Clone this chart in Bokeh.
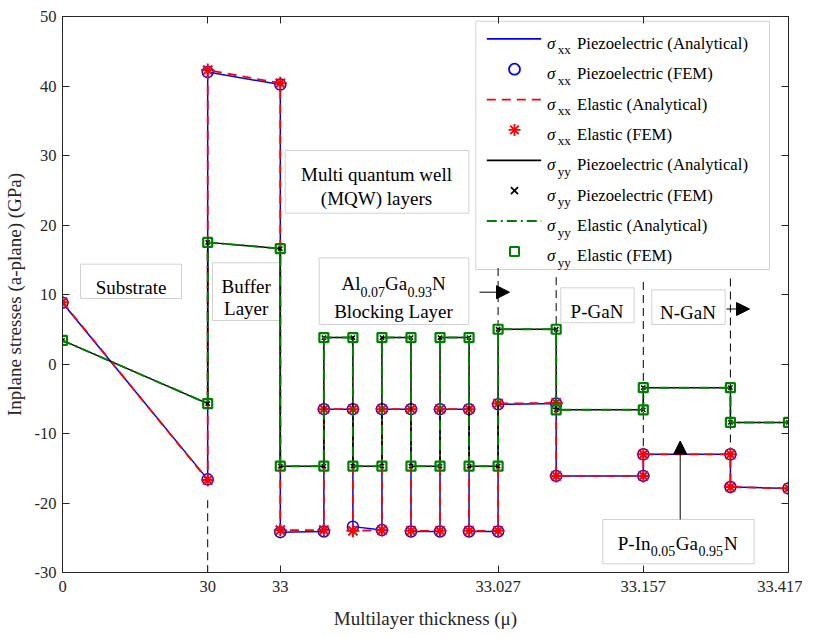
from bokeh.plotting import figure
from bokeh.models import (FixedTicker, LinearAxis, Label, BoxAnnotation, Arrow,
                          NormalHead, Range1d)
from bokeh.embed import file_html
from bokeh.resources import INLINE

# ---------------- data ----------------
layer_pos = [0, 2, 2, 3, 3, 3.6, 3.6, 4.0, 4.0, 4.4, 4.4, 4.8, 4.8, 5.2, 5.2,
             5.6, 5.6, 6.0, 6.0, 6.8, 6.8, 8.0, 8.0, 9.2, 9.2, 10]
sxx_piezo = [8.8, -16.6, 42.0, 40.2, -24.2, -24.1, -6.5, -6.5, -23.4, -23.9,
             -6.5, -6.5, -24.1, -24.1, -6.5, -6.5, -24.1, -24.1, -5.8, -5.7,
             -16.1, -16.1, -13.0, -13.0, -17.7, -17.9]
sxx_elastic = [8.9, -16.7, 42.3, 40.4, -23.9, -23.9, -6.5, -6.5, -24.0, -23.9,
               -6.5, -6.5, -24.0, -24.0, -6.5, -6.5, -24.0, -24.0, -5.7, -5.6,
               -16.1, -16.1, -13.0, -13.0, -17.7, -17.9]
syy_piezo = [3.4, -5.7, 17.5, 16.6, -14.7, -14.7, 3.8, 3.8, -14.7, -14.7,
             3.8, 3.8, -14.7, -14.7, 3.8, 3.8, -14.7, -14.7, 5.0, 5.0,
             -6.6, -6.6, -3.4, -3.4, -8.4, -8.4]
syy_elastic = [3.4, -5.7, 17.5, 16.6, -14.7, -14.7, 3.8, 3.8, -14.7, -14.7,
               3.8, 3.8, -14.7, -14.7, 3.8, 3.8, -14.7, -14.7, 5.0, 5.0,
               -6.6, -6.6, -3.4, -3.4, -8.4, -8.4]

tick_pos = [0, 2, 3, 6, 8, 10]
tick_labels = ["0", "30", "33", "33.027", "33.157", "33.417"]
y_ticks = [-30, -20, -10, 0, 10, 20, 30, 40, 50]
y_tick_labels = ["-30", "-20", "-10", "0", "10", "20", "30", "40", "50"]

boundary_pos = [2, 6, 6.8, 8, 9.2]
boundary_top = [-19.6, 13.8, 12.5, 11.8, 12.3]
boundary_bottom = [-30, 5.4, 5.4, -13.0, -17.7]

# ---------------- layout helpers (page px -> data) ----------------
FX0, FX1, FY0, FY1 = 64, 790, 16, 572


def X(px):
    return (px - FX0) * 10.0 / (FX1 - FX0)


def Y(py):
    return 50 - (py - FY0) * 80.0 / (FY1 - FY0)


FONT = "Liberation Serif"
AXC = "#262626"
BLUE, RED, GREEN = "#0000ff", "#ff0000", "#008000"

p = figure(frame_width=726, frame_height=556,
           x_range=Range1d(0, 10), y_range=Range1d(-30, 50),
           output_backend="svg", toolbar_location=None,
           min_border_left=56, min_border_right=14,
           min_border_top=16, min_border_bottom=58)
p.xgrid.visible = False
p.ygrid.visible = False
p.outline_line_color = AXC
p.background_fill_color = "white"
p.border_fill_color = "white"

p.xaxis.ticker = FixedTicker(ticks=tick_pos)
p.xaxis.major_label_overrides = {t: l for t, l in zip(tick_pos, tick_labels)}
p.yaxis.ticker = FixedTicker(ticks=y_ticks)
p.yaxis.major_label_overrides = {t: l for t, l in zip(y_ticks, y_tick_labels)}
p.xaxis.axis_label = "Multilayer thickness (μ)"
p.yaxis.axis_label = "Inplane stresses (a-plane) (GPa)"
for ax in (p.xaxis[0], p.yaxis[0]):
    ax.major_tick_in = 7
    ax.major_tick_out = 0
    ax.minor_tick_in = 0
    ax.minor_tick_out = 0
    ax.axis_line_color = AXC
    ax.major_tick_line_color = AXC
    ax.major_label_text_font = FONT
    ax.major_label_text_font_size = "16.5px"
    ax.major_label_text_color = AXC
    ax.axis_label_text_font = FONT
    ax.axis_label_text_font_size = "19px"
    ax.axis_label_text_font_style = "normal"
    ax.axis_label_text_color = AXC
p.xaxis.major_label_standoff = 8
p.xaxis.axis_label_standoff = 13
p.yaxis.major_label_standoff = 6
p.yaxis.axis_label_standoff = 7

top_ax = LinearAxis(ticker=FixedTicker(ticks=tick_pos),
                    major_label_overrides={t: "" for t in tick_pos})
right_ax = LinearAxis(ticker=FixedTicker(ticks=y_ticks),
                      major_label_overrides={t: "" for t in y_ticks})
for ax in (top_ax, right_ax):
    ax.major_tick_in = 7
    ax.major_tick_out = 0
    ax.minor_tick_in = 0
    ax.minor_tick_out = 0
    ax.axis_line_color = AXC
    ax.major_tick_line_color = AXC
    ax.major_label_text_font_size = "0px"
    ax.major_label_standoff = 0
p.add_layout(top_ax, "above")
p.add_layout(right_ax, "right")

# ---------------- boxes (underlay) ----------------
BOXC = "#d2d2d2"


def box(l, r, t, b):
    p.add_layout(BoxAnnotation(left=X(l), right=X(r), top=Y(t), bottom=Y(b),
                               fill_color="white", fill_alpha=1.0,
                               line_color=BOXC, line_alpha=1.0, line_width=1,
                               level="underlay"))


box(82, 183, 263.7, 298)          # Substrate
box(214, 281.5, 262.3, 320)       # Buffer layer
box(286.7, 470.3, 150, 212.7)     # MQW
box(320.7, 470.3, 257.3, 324)     # AlGaN
box(562.3, 635.7, 287.3, 322.3)   # P-GaN
box(653.3, 726.7, 289.3, 324)     # N-GaN
box(604.3, 755.7, 519, 563.3)     # P-InGaN
box(477.3, 771, 20.7, 269)        # legend

# ---------------- layer boundaries ----------------
p.segment(x0=boundary_pos, y0=boundary_top, x1=boundary_pos, y1=boundary_bottom,
          line_color="black", line_width=1, line_dash="8 5")

# ---------------- data series ----------------
p.line(layer_pos, sxx_piezo, line_color=BLUE, line_width=1.5)
p.scatter(layer_pos, sxx_piezo, marker="circle", size=11, fill_color=None,
          line_color=BLUE, line_width=1.5)
p.line(layer_pos, sxx_elastic, line_color=RED, line_width=1.8, line_dash="9 6")
p.scatter(layer_pos, sxx_elastic, marker="asterisk", size=13,
          line_color=RED, line_width=2)
p.line(layer_pos, syy_piezo, line_color="black", line_width=1.5)
p.scatter(layer_pos, syy_piezo, marker="x", size=6, line_color="black",
          line_width=1.5)
p.line(layer_pos, syy_elastic, line_color=GREEN, line_width=2,
       line_dash="10 4 2 4")
p.scatter(layer_pos, syy_elastic, marker="square", size=9, fill_color=None,
          line_color=GREEN, line_width=2.2)

# ---------------- arrows ----------------
def arrow(x0, y0, x1, y1):
    p.add_layout(Arrow(end=NormalHead(size=13, fill_color="black",
                                      line_color="black"),
                       x_start=X(x0), y_start=Y(y0), x_end=X(x1), y_end=Y(y1),
                       line_color="black", line_width=1))


arrow(481, 291.7, 511, 291.7)
arrow(728, 308.5, 751, 308.5)
arrow(681.7, 519, 681.7, 440.5)

# ---------------- text ----------------
def txt(px, py, s, size="19px", align="left", style="normal"):
    p.add_layout(Label(x=X(px), y=Y(py), text=s, text_font=FONT,
                       text_font_size=size, text_align=align,
                       text_baseline="alphabetic", text_color="black",
                       text_font_style=style))


txt(132.5, 286.5, "Substrate", align="center")
txt(247.7, 286, "Buffer", align="center")
txt(247.7, 308, "Layer", align="center")
txt(378, 174, "Multi quantum well", align="center")
txt(378, 197.5, "(MQW) layers", align="center")
# Al0.07Ga0.93N
txt(343, 282.6, "Al")
txt(362, 291.5, "0.07", size="14px")
txt(386.5, 282.6, "Ga")
txt(409, 291.5, "0.93", size="14px")
txt(433.5, 282.6, "N")
txt(395, 311, "Blocking Layer", align="center")
txt(598.5, 310.5, "P-GaN", align="center")
txt(689.5, 312, "N-GaN", align="center")
# P-In0.05Ga0.95N
txt(619.3, 542.7, "P-In")
txt(652.3, 550.5, "0.05", size="14px")
txt(677.3, 542.7, "Ga")
txt(700, 550.5, "0.95", size="14px")
txt(725.5, 542.7, "N")

# ---------------- legend ----------------
entries = [
    ("line", BLUE, "xx", "Piezoelectric (Analytical)"),
    ("circle", BLUE, "xx", "Piezoelectric (FEM)"),
    ("dash", RED, "xx", "Elastic (Analytical)"),
    ("asterisk", RED, "xx", "Elastic (FEM)"),
    ("line", "black", "yy", "Piezoelectric (Analytical)"),
    ("x", "black", "yy", "Piezoelectric (FEM)"),
    ("dashdot", GREEN, "yy", "Elastic (Analytical)"),
    ("square", GREEN, "yy", "Elastic (FEM)"),
]
for i, (kind, col, sub, label) in enumerate(entries):
    ry = 38.3 + 30.37 * i
    if kind in ("line", "dash", "dashdot"):
        dash = {"line": "solid", "dash": "9 6", "dashdot": "10 4 2 4"}[kind]
        p.line([X(488.3), X(542.7)], [Y(ry), Y(ry)], line_color=col,
               line_width=1.8, line_dash=dash)
    else:
        sz = {"circle": 11, "asterisk": 12, "x": 10, "square": 9}[kind]
        p.scatter([X(516)], [Y(ry)], marker=kind, size=sz, fill_color=None,
                  line_color=col, line_width=1.8 if kind != "square" else 2)
    txt(548.5, ry + 4.5, "σ", size="17px", style="italic")
    txt(559.3, ry + 11, sub, size="13px")
    txt(578.5, ry + 4.5, label, size="16.7px")

open("out.html", "w").write(file_html(p, INLINE))
